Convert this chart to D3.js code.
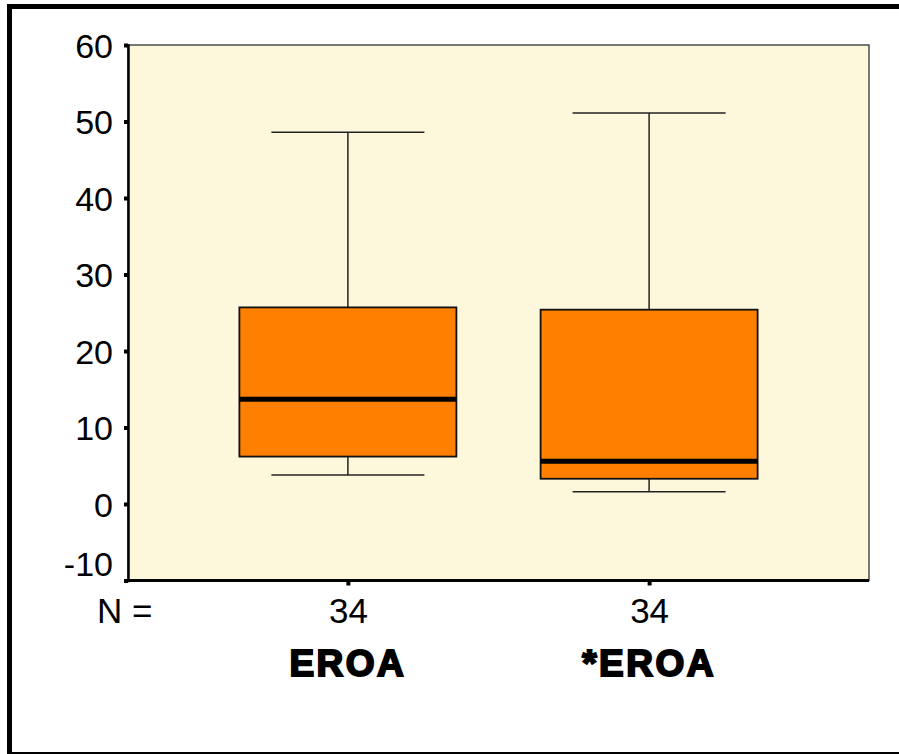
<!DOCTYPE html>
<html>
<head>
<meta charset="utf-8">
<script src="https://cdn.jsdelivr.net/npm/d3@7"></script>
<style>
  body { margin: 0; background: #fff; }
  svg { display: block; }
</style>
</head>
<body>
<svg></svg>
<script>
'use strict';

// box plot data
var groups = ['EROA', '*EROA'];
var counts = [34, 34];
var whiskerLow = [3.8, 1.6];
var q1 = [6.2, 3.3];
var median = [13.7, 5.6];
var q3 = [25.7, 25.4];
var whiskerHigh = [48.6, 51.1];
var yTicks = [-10, 0, 10, 20, 30, 40, 50, 60];

var width = 899;
var height = 754;
var font = 'Liberation Sans, Arial, sans-serif';

var svg = d3.select('svg')
  .attr('width', width)
  .attr('height', height);

// outer frame (right side is cut off in the original)
svg.append('rect')
  .attr('x', 9.5).attr('y', 6.5)
  .attr('width', 900).attr('height', 748)
  .attr('fill', 'none')
  .attr('stroke', '#000')
  .attr('stroke-width', 5);

var plot = {left: 128, right: 869, top: 45, bottom: 580.5};

var y = d3.scaleLinear()
  .domain([-10, 60])
  .range([plot.bottom, plot.top]);

var x = d3.scalePoint()
  .domain(groups)
  .range([plot.left, plot.right])
  .padding(0.73);

var boxW = 217;
var capW = 153;

// plot background
svg.append('rect')
  .attr('x', plot.left).attr('y', plot.top)
  .attr('width', plot.right - plot.left)
  .attr('height', plot.bottom - plot.top)
  .attr('fill', '#fdf7dc')
  .attr('stroke', '#222')
  .attr('stroke-width', 1.2);

var data = groups.map(function(g, i) {
  return {name: g, n: counts[i], lo: whiskerLow[i], q1: q1[i], med: median[i], q3: q3[i], hi: whiskerHigh[i]};
});

var boxes = svg.append('g').attr('class', 'boxes')
  .selectAll('g')
  .data(data)
  .enter().append('g');

// whisker stems
boxes.append('line')
  .attr('x1', function(d) { return x(d.name); })
  .attr('x2', function(d) { return x(d.name); })
  .attr('y1', function(d) { return y(d.hi); })
  .attr('y2', function(d) { return y(d.lo); })
  .attr('stroke', '#222').attr('stroke-width', 1.5);

// whisker caps
['hi', 'lo'].forEach(function(k) {
  boxes.append('line')
    .attr('x1', function(d) { return x(d.name) - capW / 2; })
    .attr('x2', function(d) { return x(d.name) + capW / 2; })
    .attr('y1', function(d) { return y(d[k]); })
    .attr('y2', function(d) { return y(d[k]); })
    .attr('stroke', '#222').attr('stroke-width', 1.5);
});

boxes.append('rect')
  .attr('x', function(d) { return x(d.name) - boxW / 2; })
  .attr('y', function(d) { return y(d.q3); })
  .attr('width', boxW)
  .attr('height', function(d) { return y(d.q1) - y(d.q3); })
  .attr('fill', '#ff8000')
  .attr('stroke', '#111')
  .attr('stroke-width', 1.8);

boxes.append('line')
  .attr('x1', function(d) { return x(d.name) - boxW / 2; })
  .attr('x2', function(d) { return x(d.name) + boxW / 2; })
  .attr('y1', function(d) { return y(d.med); })
  .attr('y2', function(d) { return y(d.med); })
  .attr('stroke', '#000').attr('stroke-width', 5);

// y axis
var yAxis = svg.append('g')
  .attr('transform', 'translate(' + plot.left + ',0)')
  .call(d3.axisLeft(y).tickValues(yTicks).tickSize(4).tickPadding(11).tickFormat(function(d) { return String(d); }));
yAxis.select('.domain').attr('stroke', '#000').attr('stroke-width', 2.5);
yAxis.selectAll('.tick line').attr('stroke', '#000').attr('stroke-width', 4);
yAxis.selectAll('.tick text')
  .attr('fill', '#000')
  .style('font-family', font)
  .style('font-size', '34px')
  .attr('dy', '0.36em');
// bottom label sits above its tick so it clears "N ="
yAxis.selectAll('.tick text').filter(function(d) { return d === -10; })
  .attr('y', -17);

// x axis
var xAxis = svg.append('g')
  .attr('transform', 'translate(0,' + plot.bottom + ')')
  .call(d3.axisBottom(x).tickSize(5).tickFormat(function(d, i) { return counts[i]; }).tickPadding(0));
xAxis.select('.domain').attr('d', 'M' + (plot.left - 3) + ',0H' + plot.right).attr('stroke', '#000').attr('stroke-width', 3);
xAxis.selectAll('.tick line').attr('stroke', '#000').attr('stroke-width', 4);
xAxis.selectAll('.tick text')
  .attr('fill', '#000')
  .attr('y', 42.5)
  .attr('dy', null)
  .style('font-family', font)
  .style('font-size', '35px');

svg.append('text')
  .attr('x', 97).attr('y', 623)
  .style('font-family', font)
  .style('font-size', '35px')
  .text('N =');

// category names underneath
svg.append('g').selectAll('text')
  .data(groups)
  .enter().append('text')
  .attr('x', function(d) { return x(d); })
  .attr('y', 676)
  .attr('text-anchor', 'middle')
  .style('font-family', font)
  .style('font-size', '37px')
  .style('font-weight', 'bold')
  .style('letter-spacing', '2.5px')
  .attr('stroke', '#000')
  .attr('stroke-width', 2)
  .text(function(d) { return d; });
</script>
</body>
</html>
